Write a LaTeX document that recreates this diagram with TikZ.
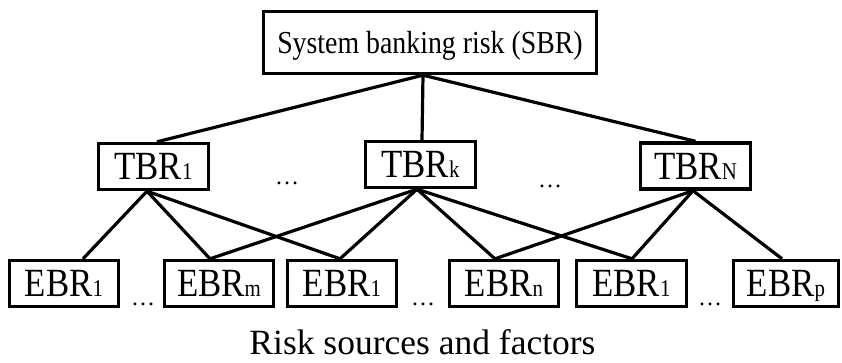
\documentclass[tikz,border=0pt]{standalone}
\usepackage{fontspec}
\setmainfont{Liberation Serif}
\newfontfamily\condfont[FakeStretch=0.87]{Liberation Serif}
\newcommand\sbsc[1]{{\fontsize{24}{24}\selectfont #1}}
\begin{document}
\begin{tikzpicture}[x=1pt,y=-1pt,
  box/.style={draw, line width=3.4pt, inner sep=0pt},
  sbrbox/.style={box, minimum width=333pt, minimum height=62pt,
    font=\condfont\fontsize{32}{32}\selectfont, text height=21.2pt, text depth=0pt},
  tbox/.style={box, minimum width=110pt, minimum height=46pt,
    font=\condfont\fontsize{40}{40}\selectfont, text height=26.5pt, text depth=0pt},
  ebox/.style={box, minimum width=109pt, minimum height=46pt,
    font=\condfont\fontsize{40}{40}\selectfont, text height=26.5pt, text depth=0pt},
  dotsnode/.style={font=\fontsize{24}{24}\selectfont, inner sep=0pt, anchor=base},
  lnk/.style={line width=3.2pt},
]
\useasboundingbox (0,0) rectangle (842,363);
\fill[white] (0,0) rectangle (842,363);

% top
\node[sbrbox] (sbr) at (430,42.5) {System banking risk (SBR)};

% middle
\node[tbox] (t1) at (153.5,166.5) {TBR\sbsc{1}};
\node[tbox] (tk) at (420.5,164.5) {TBR\sbsc{k}};
\node[tbox] (tn) at (695.5,166) {TBR\sbsc{N}};

% bottom
\node[ebox] (e1a) at (64,283.5) {EBR\sbsc{1}};
\node[ebox] (em) at (219,283.5) {EBR\sbsc{m}};
\node[ebox] (e1b) at (342,283.5) {EBR\sbsc{1}};
\node[ebox] (en) at (504,283.5) {EBR\sbsc{n}};
\node[ebox, minimum width=110pt] (e1c) at (631.5,283.5) {EBR\sbsc{1}};
\node[ebox, minimum width=105pt] (ep) at (786,283.5) {EBR\sbsc{p}};

% dots
\node[dotsnode] (d1) at (287,185) {\textellipsis};
\node[dotsnode] (d2) at (550,188) {\textellipsis};
\node[dotsnode] (d3) at (143,305) {\textellipsis};
\node[dotsnode] (d4) at (423,305) {\textellipsis};
\node[dotsnode] (d5) at (710,305) {\textellipsis};

% caption
\node[font=\fontsize{35.5}{35.5}\selectfont, inner sep=0pt, text depth=0pt, anchor=base] (cap) at (422.5,354) {Risk sources and factors};

% junction points
\coordinate (sj) at ([xshift=-7pt]sbr.south);
\coordinate (t1n) at ([xshift=3.5pt]t1.north);
\coordinate (tkn) at ([xshift=1.5pt]tk.north);
\coordinate (tnn) at (tn.north);
\coordinate (t1s) at ([xshift=-6.5pt]t1.south);
\coordinate (tks) at ([xshift=-3.5pt]tk.south);
\coordinate (tns) at ([xshift=-2.5pt]tn.south);
\coordinate (e1an) at ([xshift=19pt]e1a.north);
\coordinate (emn) at ([xshift=-9pt]em.north);
\coordinate (e1bn) at ([xshift=-2pt]e1b.north);
\coordinate (enn) at ([xshift=-9pt]en.north);
\coordinate (e1cn) at ([xshift=0.5pt]e1c.north);
\coordinate (epn) at ([xshift=-4pt]ep.north);

% connectors
\draw[lnk] (sj) -- (t1n);
\draw[lnk] (sj) -- (tkn);
\draw[lnk] (sj) -- (tnn);

\draw[lnk] (t1s) -- (e1an);
\draw[lnk] (t1s) -- (emn);
\draw[lnk] (t1s) -- (e1bn);

\draw[lnk] (tks) -- (emn);
\draw[lnk] (tks) -- (e1bn);
\draw[lnk] (tks) -- (enn);
\draw[lnk] (tks) -- (e1cn);

\draw[lnk] (tns) -- (enn);
\draw[lnk] (tns) -- (e1cn);
\draw[lnk] (tns) -- (epn);
\end{tikzpicture}
\end{document}
